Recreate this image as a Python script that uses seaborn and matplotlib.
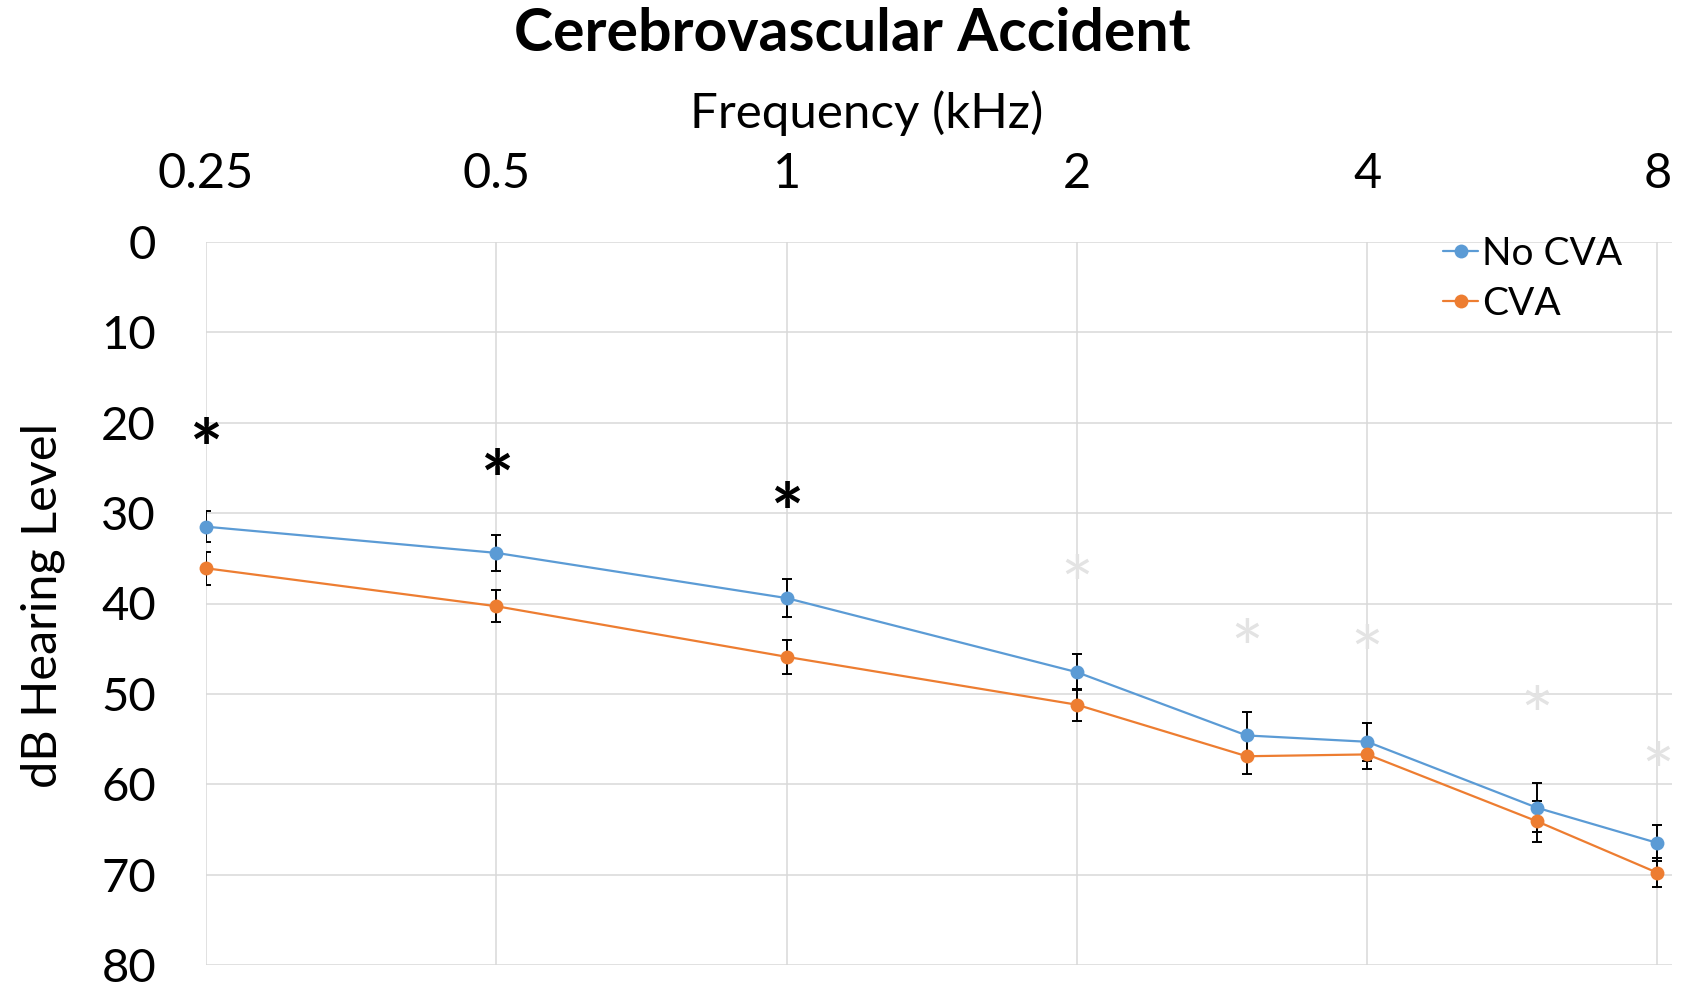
import numpy as np
import pandas as pd
import matplotlib
matplotlib.use("Agg")
import matplotlib.pyplot as plt
import matplotlib.transforms as mtransforms
import seaborn as sns

# Audiometric thresholds (dB HL)
freqs = [0.25, 0.5, 1, 2, 3, 4, 6, 8]
no_cva = [31.5, 34.4, 39.4, 47.6, 54.6, 55.3, 62.6, 66.5]
no_cva_err = [1.75, 1.95, 2.1, 2.0, 2.6, 2.1, 2.7, 1.95]
cva = [36.1, 40.3, 45.9, 51.2, 56.9, 56.7, 64.1, 69.8]
cva_err = [1.8, 1.8, 1.85, 1.75, 2.0, 1.65, 2.3, 1.6]

# significance markers
sig_freqs = [0.25, 0.5, 1]
sig_levels = [21.0, 24.4, 28.0]
faint_freqs = [2, 3, 4, 6, 8]
faint_levels = [36.1, 43.1, 43.8, 50.6, 56.8]

tick_freqs = [0.25, 0.5, 1, 2, 4, 8]
tick_labels = ["0.25", "0.5", "1", "2", "4", "8"]
y_ticks = [0, 10, 20, 30, 40, 50, 60, 70, 80]

blue = "#5B9BD5"
orange = "#ED7D31"

df = pd.DataFrame({
    "freq": freqs + freqs,
    "level": no_cva + cva,
    "group": ["No CVA"] * len(freqs) + ["CVA"] * len(freqs),
})

sns.set_style("white")
plt.rcParams["font.family"] = ["Lato", "DejaVu Sans"]
plt.rcParams["text.color"] = "black"
plt.rcParams["xtick.color"] = "black"
plt.rcParams["ytick.color"] = "black"

fig = plt.figure(figsize=(16.82, 9.90), dpi=100)
ax = fig.add_axes([206 / 1682, 25 / 990, (1672 - 206) / 1682, (965 - 242) / 990])

# error bars
ax.errorbar(freqs, no_cva, yerr=no_cva_err, fmt="none", ecolor="black",
            elinewidth=1.4, capsize=3.5, capthick=1.4, zorder=2)
ax.errorbar(freqs, cva, yerr=cva_err, fmt="none", ecolor="black",
            elinewidth=1.4, capsize=3.5, capthick=1.4, zorder=2)

sns.lineplot(data=df, x="freq", y="level", hue="group",
             palette={"No CVA": blue, "CVA": orange},
             marker="o", markersize=10, markeredgewidth=0, linewidth=1.6,
             ax=ax, clip_on=False, zorder=3)

ax.set_xscale("log", base=2)
ax.set_xlim(0.25, 8 * 2 ** 0.05)
ax.set_ylim(80, 0)
ax.set_xticks(tick_freqs)
ax.set_xticklabels(tick_labels)
ax.xaxis.set_minor_locator(matplotlib.ticker.NullLocator())
ax.set_yticks(y_ticks)
ax.xaxis.tick_top()
ax.tick_params(axis="x", length=0, labelsize=35, pad=33)
ax.tick_params(axis="y", length=0, labelsize=34, pad=36)
ax.grid(True, color="#d9d9d9", linewidth=1.1)
for s in ax.spines.values():
    s.set_visible(False)
ax.set_xlabel("")
ax.set_ylabel("")

# asterisks: shift the glyph down so its centre sits on the level
star_tr = mtransforms.offset_copy(ax.transData, fig=fig, x=0, y=-17, units="points")
for f, lv in zip(sig_freqs, sig_levels):
    ax.text(f, lv, "*", ha="center", va="center", fontsize=56,
            fontweight="bold", color="black", zorder=4, transform=star_tr)
for f, lv in zip(faint_freqs, faint_levels):
    ax.text(f, lv, "*", ha="center", va="center", fontsize=56,
            color="#e3e3e3", zorder=1, clip_on=False, transform=star_tr)

fig.text(0.5065, 0.966, "Cerebrovascular Accident", ha="center", va="center",
         fontsize=42.5, fontweight="bold")
fig.text(0.5155, 0.886, "Frequency (kHz)", ha="center", va="center", fontsize=35.5)
fig.text(0.0255, 0.388, "dB Hearing Level", ha="center", va="center",
         rotation=90, fontsize=35)

handles, labels = ax.get_legend_handles_labels()
ax.legend(handles, labels, loc="upper left", frameon=False, fontsize=28,
          bbox_to_anchor=(1443 / 1682, 1 - 236 / 990),
          bbox_transform=fig.transFigure, handlelength=0.9,
          handletextpad=0.1, labelspacing=0.35, borderaxespad=0, borderpad=0)

fig.savefig("out.png", dpi=100, facecolor="white")
